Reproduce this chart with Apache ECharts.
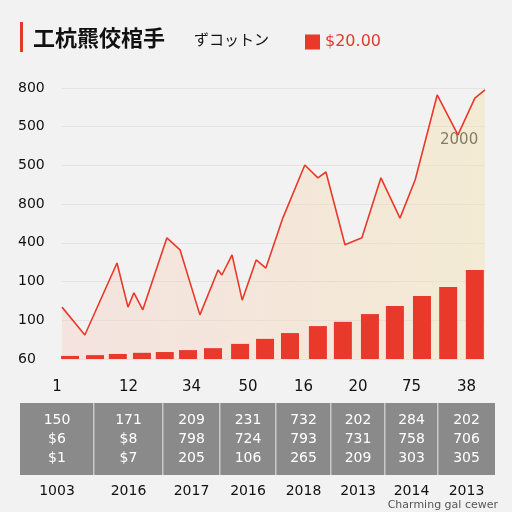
<!DOCTYPE html>
<html><head><meta charset="utf-8">
<script src="https://cdn.jsdelivr.net/npm/echarts@6/dist/echarts.min.js"></script>
<style>body{margin:0;background:#f2f2f2}#c{width:512px;height:512px}</style></head>
<body><div id="c"></div>
<script>
const yTickLabels = ['60','100','100','400','800','500','500','800'];
const lineX = [0,5.4,13.0,15.6,17.0,19.1,24.8,27.9,32.6,36.9,37.8,40.2,42.6,45.9,48.2,52.2,57.4,60.5,62.4,66.9,70.9,75.4,79.9,83.5,88.7,93.6,97.6,100];
const lineY = [1.34,0.62,2.48,1.34,1.71,1.27,3.13,2.82,1.14,2.30,2.17,2.69,1.52,2.56,2.35,3.64,5.01,4.68,4.83,2.95,3.13,4.68,3.64,4.63,6.82,5.79,6.74,6.95];
const barX = [1.9,7.8,13.2,18.9,24.3,29.8,35.7,42.1,48.0,53.9,60.5,66.4,72.8,78.7,85.1,91.3,97.6];
const barY = [0.08,0.10,0.13,0.16,0.18,0.23,0.28,0.39,0.52,0.67,0.85,0.96,1.16,1.37,1.63,1.86,2.30];
const colLabels = ['1','12','34','50','16','20','75','38'];
const row1 = ['150','171','209','231','732','202','284','202'];
const row2 = ['$6','$8','798','724','793','731','758','706'];
const row3 = ['$1','$7','205','106','265','209','303','305'];
const years = ['1003','2016','2017','2016','2018','2013','2014','2013'];

const chart = echarts.init(document.getElementById('c'));
const g = [];
g.push({type:'rect',shape:{x:20,y:22,width:3,height:30},style:{fill:'#e03a2a'}});
g.push({type:'text',style:{x:33,y:38,text:'工杭羆佼棺手',font:'bold 22px "Noto Sans CJK JP"',fill:'#111',verticalAlign:'middle'}});
g.push({type:'text',style:{x:194,y:39,text:'ずコットン',font:'15px "Noto Sans CJK JP"',fill:'#111',verticalAlign:'middle'}});
g.push({type:'text',style:{x:440,y:140,text:'2000',font:'15px "DejaVu Sans"',fill:'#333',verticalAlign:'middle'}});
const cw = [20,94,163,220,276,331,385,438,495];
g.push({type:'rect',shape:{x:20,y:403,width:475,height:72},style:{fill:'#8a8a8a'}});
for(let i=0;i<8;i++){
  const cx=(cw[i]+cw[i+1])/2;
  if(i>0) g.push({type:'rect',shape:{x:cw[i]-1,y:403,width:1.5,height:72},style:{fill:'#c8c8c8'}});
  g.push({type:'text',style:{x:cx,y:387,text:colLabels[i],font:'15px "DejaVu Sans"',fill:'#111',align:'center',verticalAlign:'middle'}});
  [row1,row2,row3].forEach((r,k)=>g.push({type:'text',style:{x:cx,y:420+k*19,text:r[i],font:'14px "DejaVu Sans"',fill:'#fff',align:'center',verticalAlign:'middle'}}));
  g.push({type:'text',style:{x:cx,y:491,text:years[i],font:'14px "DejaVu Sans"',fill:'#111',align:'center',verticalAlign:'middle'}});
}
g.push({type:'text',style:{x:498,y:505,text:'Charming gal cewer',font:'11px "DejaVu Sans"',fill:'#555',align:'right',verticalAlign:'middle'}});

chart.setOption({
  backgroundColor:'#f2f2f2',
  animation:false,
  graphic:g,
  legend:{data:['$20.00'],left:300,top:29,itemWidth:15,itemHeight:15,icon:'rect',textStyle:{color:'#e03a2a',fontSize:16,fontFamily:'DejaVu Sans'}},
  grid:{left:62,right:27,top:88,bottom:153},
  xAxis:{type:'value',min:0,max:100,show:false},
  yAxis:{type:'value',min:0,max:7,interval:1,axisLine:{show:false},axisTick:{show:false},
    splitLine:{lineStyle:{color:'#e3e3e3'}},
    axisLabel:{formatter:v=>yTickLabels[v],color:'#111',fontSize:14,fontFamily:'DejaVu Sans',align:'left',margin:44}},
  series:[
    {type:'line',z:1,data:lineX.map((x,i)=>[x,lineY[i]]),symbol:'none',lineStyle:{color:'#e8392a',width:1.6},
     areaStyle:{color:{type:'linear',x:0,y:0,x2:1,y2:0,colorStops:[{offset:0,color:'rgba(248,200,190,0.5)'},{offset:1,color:'rgba(245,225,170,0.6)'}]}}},
    {name:'$20.00',type:'bar',z:5,data:barX.map((x,i)=>[x,barY[i]]),barWidth:18,itemStyle:{color:'#e8392a',opacity:1}}
  ]
});
</script></body></html>
